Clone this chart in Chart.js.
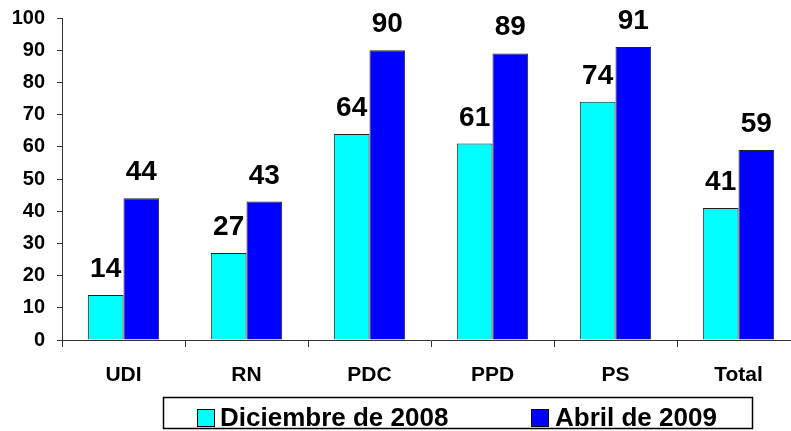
<!DOCTYPE html>
<html>
<head>
<meta charset="utf-8">
<script src="https://cdn.jsdelivr.net/npm/chart.js@4.4.0/dist/chart.umd.min.js"></script>
<style>
  html, body { margin: 0; padding: 0; background: #fff; overflow: hidden; }
  #wrap { width: 800px; height: 431px; position: relative; }
</style>
</head>
<body>
<div id="wrap"><canvas id="c" width="800" height="431"></canvas></div>
<script>
const categories = ["UDI", "RN", "PDC", "PPD", "PS", "Total"];
const seriesNames = ["Diciembre de 2008", "Abril de 2009"];
const dic2008 = [14, 27, 64, 61, 74, 41];
const abr2009 = [44, 43, 90, 89, 91, 59];
const yTicks = [0, 10, 20, 30, 40, 50, 60, 70, 80, 90, 100];

const FONT = "'Liberation Sans', Arial, sans-serif";

const valueLabels = {
  id: 'valueLabels',
  afterDatasetsDraw(chart) {
    const ctx = chart.ctx;
    ctx.save();
    ctx.font = "bold 28px " + FONT;
    ctx.fillStyle = '#000';
    ctx.textAlign = 'center';
    ctx.textBaseline = 'alphabetic';
    chart.data.datasets.forEach((ds, di) => {
      const meta = chart.getDatasetMeta(di);
      meta.data.forEach((el, i) => {
        ctx.fillText(String(ds.data[i]), el.x, el.y - 18);
      });
    });
    ctx.restore();
  }
};

const boxLegend = {
  id: 'boxLegend',
  afterDraw(chart) {
    const ctx = chart.ctx;
    ctx.save();
    ctx.strokeStyle = '#000';
    ctx.lineWidth = 1.5;
    ctx.strokeRect(163.5, 397.5, 589, 31);
    const items = [{sx: 197, tx: 220}, {sx: 531, tx: 555}];
    ctx.font = "bold 26px " + FONT;
    ctx.textBaseline = 'alphabetic';
    ctx.textAlign = 'left';
    chart.data.datasets.forEach((ds, i) => {
      const it = items[i];
      ctx.fillStyle = ds.backgroundColor;
      ctx.fillRect(it.sx, 409, 17, 17);
      ctx.lineWidth = 1;
      ctx.strokeStyle = '#000';
      ctx.strokeRect(it.sx + 0.5, 409.5, 17, 17);
      ctx.fillStyle = '#000';
      ctx.fillText(ds.label, it.tx, 426);
    });
    ctx.restore();
  }
};

new Chart(document.getElementById('c'), {
  type: 'bar',
  data: {
    labels: categories,
    datasets: [
      { label: seriesNames[0], data: dic2008, backgroundColor: '#00FFFF', borderColor: '#222222', borderWidth: 1 },
      { label: seriesNames[1], data: abr2009, backgroundColor: '#0000FF', borderColor: '#222222', borderWidth: 1 }
    ]
  },
  options: {
    responsive: false,
    animation: false,
    events: [],
    layout: { padding: { top: 18, bottom: 0, left: 0, right: 0 } },
    datasets: { bar: { categoryPercentage: 0.58, barPercentage: 1 } },
    plugins: { legend: { display: false }, tooltip: { enabled: false } },
    scales: {
      x: {
        offset: true,
        grid: { offset: true, drawOnChartArea: false, drawTicks: true, tickLength: 7, color: '#333', lineWidth: 1 },
        border: { color: '#333', width: 1 },
        ticks: { color: '#000', font: { family: FONT, size: 21, weight: 'bold' }, padding: 16, maxRotation: 0 },
        afterFit(s) { s.height = 91; s.paddingLeft = 0; s.paddingRight = 0; }
      },
      y: {
        min: 0, max: 100,
        afterBuildTicks(s) { s.ticks = yTicks.map(v => ({ value: v })); },
        grid: { drawOnChartArea: false, drawTicks: true, tickLength: 5, color: '#333' },
        border: { color: '#333', width: 1 },
        ticks: { color: '#000', font: { family: FONT, size: 20, weight: 'bold' }, padding: 12 },
        afterFit(s) { s.width = 62; s.paddingTop = 0; s.paddingBottom = 0; }
      }
    }
  },
  plugins: [valueLabels, boxLegend]
});
</script>
</body>
</html>
